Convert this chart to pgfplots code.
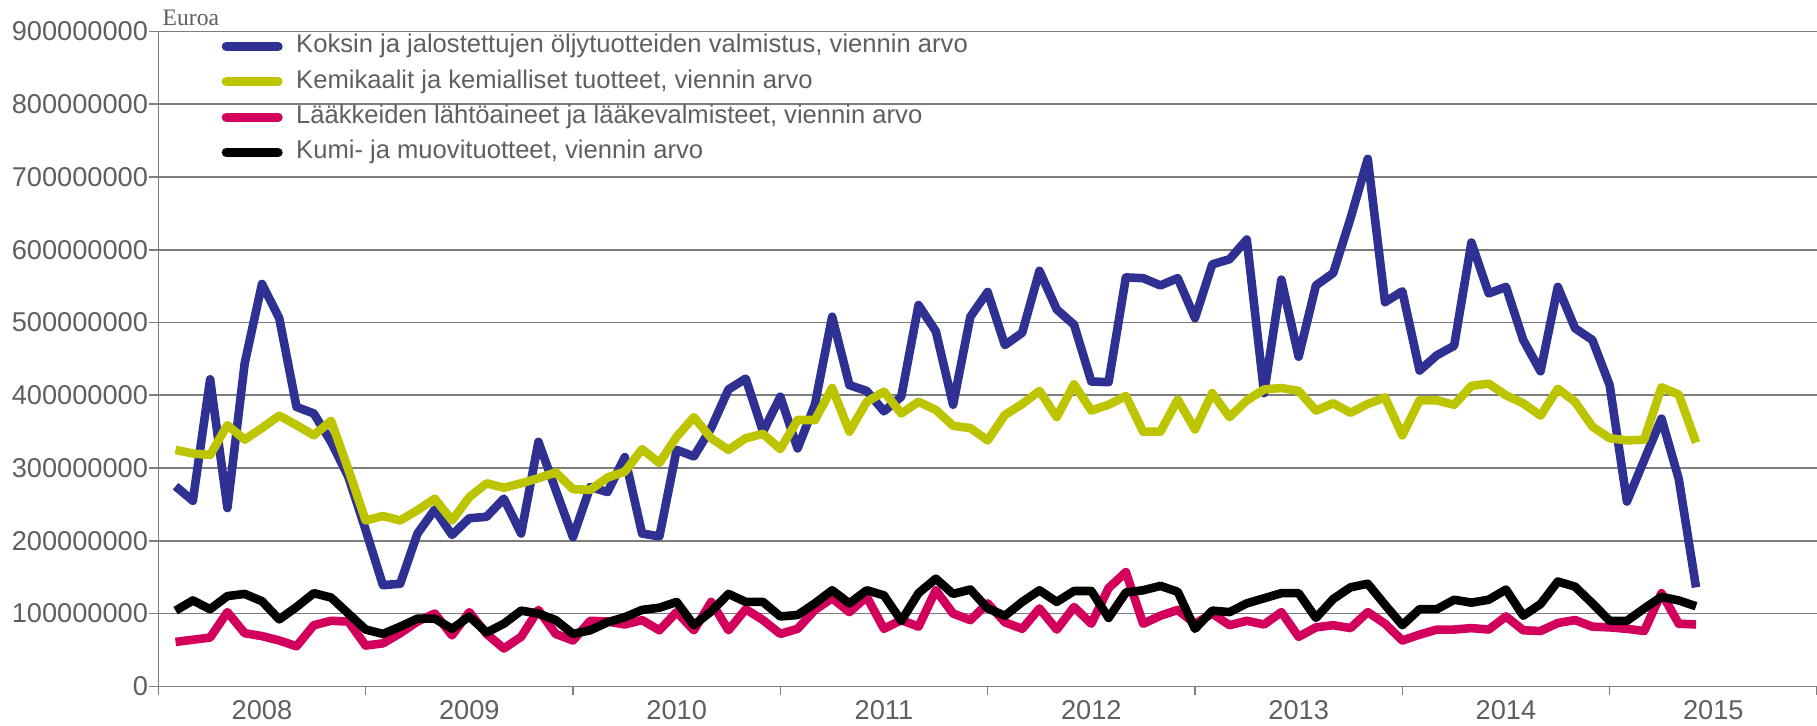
\documentclass[border=0pt]{standalone}
\usepackage{fontspec}
\setmainfont{Liberation Sans}
\newfontfamily\seriffont{Liberation Serif}
\usepackage{pgfplots}
\usepackage{pgfplotstable}
\pgfplotsset{compat=1.18}
\definecolor{cBlue}{RGB}{46,49,146}
\definecolor{cLime}{RGB}{189,197,0}
\definecolor{cPink}{RGB}{210,0,92}
\definecolor{gridgray}{RGB}{125,125,125}
\definecolor{textgray}{RGB}{95,95,95}

% i = month index (1 = 2008/01), values in millions of euro
\pgfplotstableread{
i koksi kemi laake kumi
1 275 325 61 104
2 255 320 64 118
3 422 318 67 106
4 245 359 102 124
5 444 339 73 127
6 553 355 69 117
7 506 372 63 92
8 384 359 55 109
9 375 345 84 128
10 336 365 90 122
11 288 298 89 100
12 215 228 56 78
13 139 234 59 72
14 141 228 73 82
15 210 242 89 93
16 243 258 100 93
17 208 228 70 79
18 231 260 102 96
19 233 279 72 74
20 258 273 52 86
21 210 279 68 104
22 336 286 105 100
23 270 294 72 91
24 205 271 63 72
25 274 270 90 77
26 267 287 89 88
27 315 295 85 95
28 210 326 91 105
29 206 307 77 108
30 325 343 102 116
31 316 370 77 84
32 355 341 116 103
33 408 325 77 127
34 423 341 106 116
35 350 347 91 116
36 398 326 72 96
37 327 366 79 98
38 387 366 105 114
39 508 410 121 132
40 414 350 102 114
41 406 391 123 132
42 378 405 79 125
43 398 375 91 90
44 524 391 82 128
45 488 380 132 148
46 387 358 100 127
47 508 355 91 133
48 542 338 114 107
49 469 373 88 97
50 486 388 79 116
51 571 406 107 132
52 518 370 78 116
53 497 415 109 131
54 419 379 86 131
55 418 387 135 94
56 562 399 157 129
57 561 350 86 132
58 551 350 97 138
59 561 394 105 130
60 506 353 86 79
61 580 403 100 104
62 587 370 84 102
63 614 393 90 114
64 403 408 85 121
65 559 410 102 128
66 453 406 68 128
67 551 379 81 94
68 568 389 84 120
69 643 376 80 136
70 725 388 102 141
71 528 397 86 112
72 543 345 63 84
73 434 393 71 106
74 455 393 78 106
75 468 387 78 119
76 610 413 80 115
77 540 416 78 119
78 549 400 96 133
79 476 389 77 97
80 433 372 76 113
81 549 409 87 144
82 492 391 91 137
83 476 357 82 114
84 414 341 81 90
85 254 338 79 90
86 311 339 76 107
87 368 411 128 123
88 285 401 86 118
89 136 335 85 110
}\data

\begin{document}
\begin{tikzpicture}
\useasboundingbox (0,0) rectangle (908.5pt,362.5pt);
\begin{axis}[
  at={(79.15pt,19.35pt)}, anchor=south west,
  scale only axis, width=829.35pt, height=327.4pt,
  xmin=0, xmax=96, ymin=0, ymax=900,
  axis x line*=bottom, axis y line*=left,
  axis line style={draw=gridgray, line width=0.8pt, -},
  tick align=outside,
  tick style={draw=gridgray, line width=0.8pt},
  ytick={0,100,200,300,400,500,600,700,800,900},
  yticklabels={0,100000000,200000000,300000000,400000000,500000000,600000000,700000000,800000000,900000000},
  ymajorgrids,
  grid style={draw=gridgray, line width=0.8pt},
  xtick={0,12,24,36,48,60,72,84,96},
  xticklabels={},
  major tick length=4.5pt,
  extra x ticks={6,18,30,42,54,66,78,90},
  extra x tick labels={2008,2009,2010,2011,2012,2013,2014,2015},
  extra x tick style={major tick length=0pt, grid=none, tick style={draw=none}},
  ticklabel style={font=\fontsize{13.6}{16}\selectfont, text=textgray},
  xticklabel style={yshift=-3.5pt},
  yticklabel style={xshift=2.85pt},
  clip=false,
  legend style={at={(rel axis cs:0,1)}, anchor=north west, xshift=31.5pt, yshift=-1pt,
    draw=none, fill=none, inner sep=0pt, row sep=5.17pt,
    font=\fontsize{12.8}{15}\selectfont, text=textgray,
    nodes={inner sep=0pt, text height=9.5pt, text depth=3pt}},
  legend cell align=left,
  legend image code/.code={\draw[#1, line width=4.5pt, line cap=round] (0pt,0pt) -- (26pt,0pt);
    \path[draw=none, fill=none] (0pt,0pt) -- (35pt,0pt);},
  every axis plot/.append style={line width=4.3pt, line join=round, mark=none},
]
\addplot[cBlue] table[x=i, y=koksi] {\data};
\addlegendentry{Koksin ja jalostettujen öljytuotteiden valmistus, viennin arvo}
\addplot[cLime] table[x=i, y=kemi] {\data};
\addlegendentry{Kemikaalit ja kemialliset tuotteet, viennin arvo}
\addplot[cPink] table[x=i, y=laake] {\data};
\addlegendentry{Lääkkeiden lähtöaineet ja lääkevalmisteet, viennin arvo}
\addplot[black] table[x=i, y=kumi] {\data};
\addlegendentry{Kumi- ja muovituotteet, viennin arvo}
\node[anchor=base west, inner sep=0pt, font=\seriffont\fontsize{11.8}{13}\selectfont, text=textgray] at (rel axis cs:0,1) [xshift=2pt, yshift=3.25pt] {Euroa};
\end{axis}
\end{tikzpicture}
\end{document}
